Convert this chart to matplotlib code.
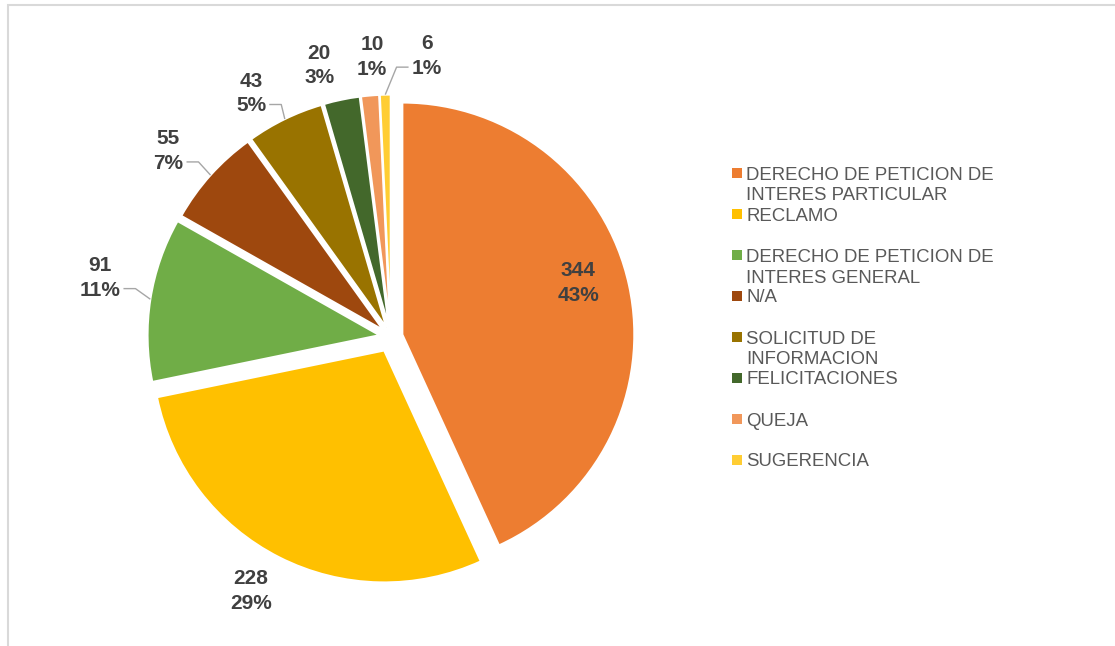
import textwrap
import numpy as np
import matplotlib
matplotlib.use("Agg")
import matplotlib.pyplot as plt
from matplotlib.patches import Rectangle

plt.rcParams['font.family'] = ['Liberation Sans', 'DejaVu Sans']

# ---------------- data ----------------
categories = [
    "DERECHO DE PETICION DE INTERES PARTICULAR",
    "RECLAMO",
    "DERECHO DE PETICION DE INTERES GENERAL",
    "N/A",
    "SOLICITUD DE INFORMACION",
    "FELICITACIONES",
    "QUEJA",
    "SUGERENCIA",
]
values = [344, 228, 91, 55, 43, 20, 10, 6]
colors = ["#ED7D31", "#FFC000", "#70AD47", "#9E480E",
          "#997300", "#43682B", "#F1975A", "#FFCD33"]

# ---------------- style / layout ----------------
explode = [0.05, 0.065, 0.05, 0.045, 0.045, 0.045, 0.045, 0.045]
label_r = [0.84, 1.25, 1.28, 1.25, 1.21, 1.21, 1.21, 1.22]
label_nudge = [3.8, -2.0, -2.6, 2.0, 3.9, 3.1, -1.1, -8.6]
leader = [False, False, True, True, True, False, False, True]

W, H = 1115, 646
fig = plt.figure(figsize=(W / 100, H / 100), dpi=100)
fig.patch.set_facecolor("white")

R_PX = 232.0
CX, CY = 391.0, H - 337.0
L = 1.3
ax = fig.add_axes([(CX - L * R_PX) / W, (CY - L * R_PX) / H,
                   2 * L * R_PX / W, 2 * L * R_PX / H])

wedges, _ = ax.pie(values, colors=colors, startangle=90, counterclock=False,
                   explode=explode, radius=1.0,
                   wedgeprops=dict(edgecolor="white", linewidth=1.5),
                   frame=False)
ax.set_xlim(-L, L)
ax.set_ylim(-L, L)
ax.set_aspect("equal")
ax.axis("off")

total = float(sum(values))
cum = np.cumsum([0] + values[:-1])
mids = [90 - 360.0 * (c + v / 2.0) / total for c, v in zip(cum, values)]

LABEL_COLOR = "#404040"
texts = []
for i, v in enumerate(values):
    a = np.deg2rad(mids[i] + label_nudge[i])
    x, y = label_r[i] * np.cos(a), label_r[i] * np.sin(a)
    pct = int(round(100 * v / total))
    t = ax.text(x, y, f"{v}\n{pct}%", ha="center", va="center",
                fontsize=15, fontweight="bold", color=LABEL_COLOR,
                linespacing=1.38)
    texts.append(t)

# leader lines
fig.canvas.draw()
inv = ax.transData.inverted()
for i, t in enumerate(texts):
    if not leader[i]:
        continue
    bb = t.get_window_extent()
    a = np.deg2rad(mids[i])
    wp = (1 + explode[i]) * np.array([np.cos(a), np.sin(a)])
    wp_disp = ax.transData.transform(wp)
    ly = bb.y0 + 0.25 * bb.height
    if wp_disp[0] > bb.x1:
        start = (bb.x1 + 3, ly)
        elbow = (bb.x1 + 15, ly)
    else:
        start = (bb.x0 - 3, ly)
        elbow = (bb.x0 - 15, ly)
    pts = inv.transform([start, elbow, wp_disp])
    ax.plot(pts[:, 0], pts[:, 1], color="#A6A6A6", lw=1.0,
            solid_capstyle="butt", clip_on=False)

# legend (manual, Excel-like layout)
LEG_X_MARK, LEG_X_TEXT = 732, 746
LEG_Y0, LEG_DY, LINE_DY = 173, 41, 21
for i, (cat, col) in enumerate(zip(categories, colors)):
    yc = LEG_Y0 + i * LEG_DY
    fig.patches.append(Rectangle((LEG_X_MARK / W, (H - yc - 5) / H), 10 / W, 10 / H,
                                 transform=fig.transFigure, facecolor=col,
                                 edgecolor="none"))
    for k, line in enumerate(textwrap.wrap(cat, 22)):
        fig.text(LEG_X_TEXT / W, (H - (yc + k * LINE_DY)) / H, line,
                 ha="left", va="center_baseline", fontsize=13.4, color="#595959")

# chart border (cropped on right/bottom)
fig.patches.append(Rectangle((8 / W, -0.1), 1.2, (H - 5) / H + 0.1,
                             transform=fig.transFigure, fill=False,
                             edgecolor="#D9D9D9", lw=1.5))

fig.savefig("out.png", dpi=100, facecolor="white")
